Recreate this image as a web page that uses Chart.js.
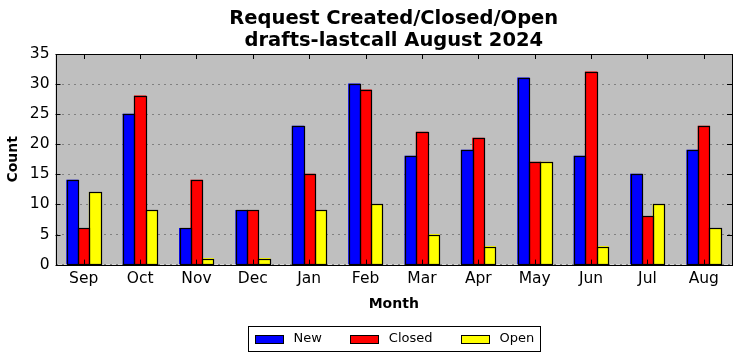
<!DOCTYPE html>
<html>
<head>
<meta charset="utf-8">
<script src="https://cdn.jsdelivr.net/npm/chart.js@4.4.1/dist/chart.umd.min.js"></script>
<style>
  html, body { margin: 0; padding: 0; background: #fff; }
  #wrap { width: 742px; height: 361px; }
</style>
</head>
<body>
<div id="wrap"><canvas id="chart" width="742" height="361"></canvas></div>
<script>
// --- Data ---
const months = ["Sep", "Oct", "Nov", "Dec", "Jan", "Feb", "Mar", "Apr", "May", "Jun", "Jul", "Aug"];
const newCounts = [14, 25, 6, 9, 23, 30, 18, 19, 31, 18, 15, 19];
const closedCounts = [6, 28, 14, 9, 15, 29, 22, 21, 17, 32, 8, 23];
const openCounts = [12, 9, 1, 1, 9, 10, 5, 3, 17, 3, 10, 6];
const yTicks = [0, 5, 10, 15, 20, 25, 30, 35];
const titleLines = ["Request Created/Closed/Open", "drafts-lastcall August 2024"];

const FONT = "'DejaVu Sans', sans-serif";

// --- Plot background, frame, bar outlines, inward ticks, title and boxed legend ---
const framePlugin = {
  id: "frame",
  beforeDraw(chart) {
    const { ctx, chartArea: a } = chart;
    ctx.save();
    ctx.fillStyle = "#bfbfbf";
    ctx.fillRect(a.left, a.top, a.right - a.left, a.bottom - a.top);
    ctx.restore();
  },
  afterDatasetsDraw(chart) {
    const { ctx, chartArea: a, scales } = chart;
    ctx.save();
    ctx.strokeStyle = "#000";
    ctx.lineWidth = 1.2;

    // black outline on each bar, taken from the bar elements themselves
    chart.data.datasets.forEach((d, i) => {
      chart.getDatasetMeta(i).data.forEach(bar => {
        const l = Math.round(bar.x - bar.width / 2) + 0.5;
        const r = Math.round(bar.x + bar.width / 2) + 0.5;
        const t = Math.round(bar.y) + 0.5;
        const b = Math.round(bar.base) + 0.5;
        ctx.strokeRect(l, t, r - l, b - t);
      });
    });

    ctx.lineWidth = 1;
    ctx.beginPath();
    const xs = scales.x, ys = scales.y;
    xs.ticks.forEach((t, i) => {
      const px = Math.round(xs.getPixelForTick(i)) + 0.5;
      ctx.moveTo(px, a.bottom); ctx.lineTo(px, a.bottom - 5);
      ctx.moveTo(px, a.top); ctx.lineTo(px, a.top + 5);
    });
    ys.ticks.forEach((t, i) => {
      const py = Math.round(ys.getPixelForTick(i)) + 0.5;
      ctx.moveTo(a.left, py); ctx.lineTo(a.left + 5, py);
      ctx.moveTo(a.right, py); ctx.lineTo(a.right - 5, py);
    });
    ctx.stroke();
    ctx.strokeRect(Math.round(a.left) + 0.5, Math.round(a.top) + 0.5,
      Math.round(a.right - a.left), Math.round(a.bottom - a.top));
    ctx.restore();
  },
  afterDraw(chart) {
    const { ctx, chartArea: a } = chart;
    const cx = (a.left + a.right) / 2;

    // title, centred over the plot area
    ctx.save();
    ctx.fillStyle = "#000";
    ctx.font = "bold 19.5px " + FONT;
    ctx.textAlign = "center";
    ctx.textBaseline = "middle";
    ctx.fillText(titleLines[0], cx, 19);
    ctx.fillText(titleLines[1], cx, 41);
    ctx.restore();

    // legend
    const ds = chart.data.datasets;
    ctx.save();
    ctx.font = "13px " + FONT;
    const sw = 29, sh = 9, gapText = 10, gapItem = 28, padX = 6;
    const widths = ds.map(d => sw + gapText + ctx.measureText(d.label).width);
    const total = widths.reduce((s, w) => s + w, 0) + gapItem * (ds.length - 1) + padX * 2;
    const boxH = 25;
    const bx = Math.round(cx - total / 2) + 0.5;
    const by = 326.5;
    ctx.fillStyle = "#fff";
    ctx.fillRect(bx, by, total, boxH);
    ctx.strokeStyle = "#000";
    ctx.lineWidth = 1;
    ctx.strokeRect(bx, by, Math.round(total), boxH);
    let x = bx + padX;
    const midY = by + boxH / 2;
    ds.forEach((d, i) => {
      ctx.fillStyle = d.backgroundColor;
      ctx.fillRect(Math.round(x), Math.round(midY - sh / 2), sw, sh);
      ctx.strokeStyle = "#000";
      ctx.strokeRect(Math.round(x) + 0.5, Math.round(midY - sh / 2) + 0.5, sw - 1, sh - 1);
      ctx.fillStyle = "#000";
      ctx.textBaseline = "middle";
      ctx.textAlign = "left";
      ctx.fillText(d.label, x + sw + gapText, midY);
      x += widths[i] + gapItem;
    });
    ctx.restore();
  }
};

const barStyle = { borderWidth: 0, inflateAmount: 0.5 };

new Chart(document.getElementById("chart"), {
  type: "bar",
  data: {
    labels: months,
    datasets: [
      { label: "New", data: newCounts, backgroundColor: "#0000ff", ...barStyle },
      { label: "Closed", data: closedCounts, backgroundColor: "#ff0000", ...barStyle },
      { label: "Open", data: openCounts, backgroundColor: "#ffff00", ...barStyle }
    ]
  },
  options: {
    responsive: false,
    animation: false,
    devicePixelRatio: 1,
    datasets: { bar: { categoryPercentage: 0.6, barPercentage: 1.0 } },
    layout: { padding: { left: 5, right: 10, top: 54, bottom: 48 } },
    plugins: {
      title: { display: false },
      legend: { display: false },
      tooltip: { enabled: false }
    },
    scales: {
      x: {
        grid: { display: false, drawTicks: false },
        border: { display: false },
        ticks: { color: "#000", font: { family: FONT, size: 15.5 }, padding: 5 },
        title: {
          display: true, text: "Month", color: "#000",
          font: { family: FONT, size: 14, weight: "bold" }, padding: { top: 3, bottom: 0 }
        }
      },
      y: {
        min: 0, max: 35,
        afterBuildTicks(axis) { axis.ticks = yTicks.map(v => ({ value: v })); },
        grid: { color: "#808080", lineWidth: 1, drawTicks: false },
        border: { display: false, dash: [2, 4] },
        ticks: { color: "#000", font: { family: FONT, size: 15.5 }, padding: 6 },
        title: {
          display: true, text: "Count", color: "#000",
          font: { family: FONT, size: 14, weight: "bold" }, padding: { top: 0, bottom: 2 }
        }
      }
    }
  },
  plugins: [framePlugin]
});
</script>
</body>
</html>
